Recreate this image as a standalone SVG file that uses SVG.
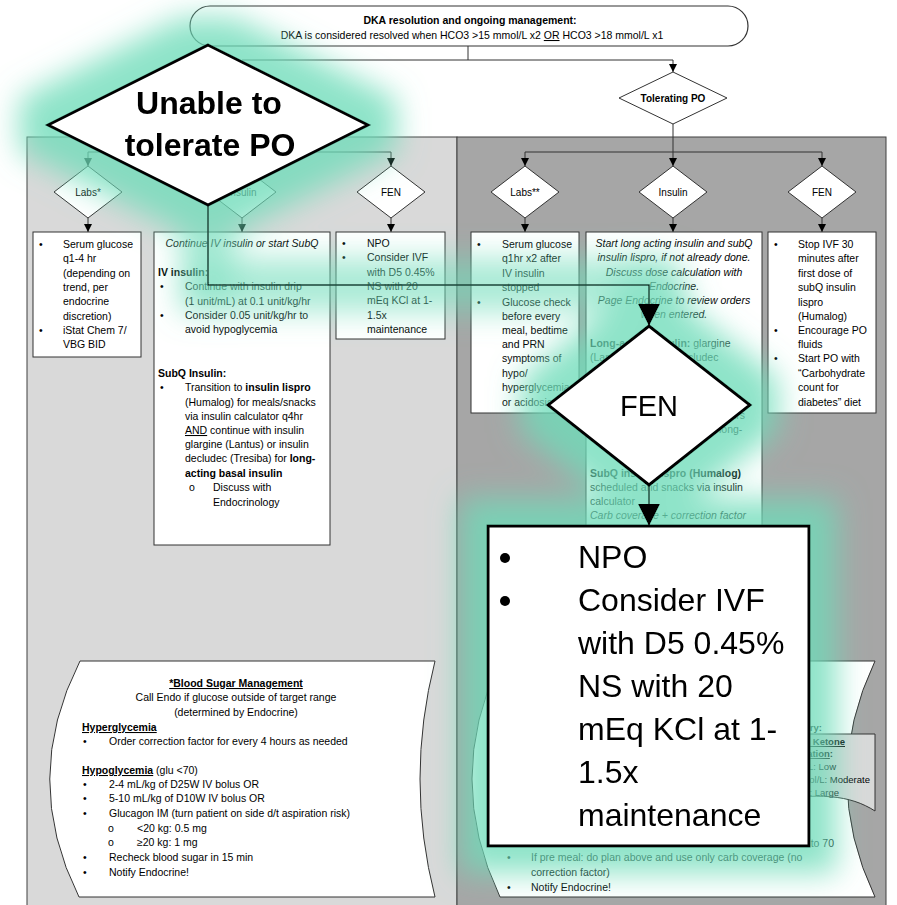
<svg xmlns="http://www.w3.org/2000/svg" width="897" height="905" viewBox="0 0 897 905">
<style>
text{font-family:"Liberation Sans",Arial,sans-serif;font-size:10.5px;fill:#000}
.b{font-weight:bold}
.i{font-style:italic}
.c{text-anchor:middle}
.e{text-anchor:end}
.u{text-decoration:underline}
.s9{font-size:9.5px}
.s10{font-size:10px}
.box{fill:#fff;stroke:#333;stroke-width:1}
.dia{fill:#fff;stroke:#333;stroke-width:1}
.con{fill:none;stroke:#333;stroke-width:1}
.big{fill:#fff;stroke:#000;stroke-width:3}
.bigcon{fill:none;stroke:#000;stroke-width:1.5}
.huge{font-size:32px}
</style>
<defs>
<marker id="arr" markerUnits="userSpaceOnUse" viewBox="0 0 10 10" refX="10" refY="5" markerWidth="8" markerHeight="8" orient="auto"><path d="M0,0 L10,5 L0,10 Z" fill="#000"/></marker>
<marker id="bigarr" markerUnits="userSpaceOnUse" viewBox="0 0 10 10" refX="10" refY="5" markerWidth="22" markerHeight="22" orient="auto"><path d="M0,0 L10,5 L0,10 Z" fill="#000"/></marker>
<filter id="glow" filterUnits="userSpaceOnUse" x="0" y="0" width="897" height="905">
<feMorphology in="SourceAlpha" operator="dilate" radius="26" result="d"/>
<feGaussianBlur in="d" stdDeviation="15" result="bl"/>
<feFlood flood-color="#6edcb9" flood-opacity="0.78"/>
<feComposite in2="bl" operator="in" result="g"/>
<feMerge><feMergeNode in="g"/><feMergeNode in="SourceGraphic"/></feMerge>
</filter>
</defs>
<rect width="897" height="905" fill="#fff"/>
<g id="panels">
<rect x="27" y="137" width="430" height="780" fill="#d9d9d9" stroke="#404040"/>
<rect x="457" y="137" width="429" height="780" fill="#a6a6a6" stroke="#404040"/>
</g>
<g id="connectors">
<path class="con" d="M468,46 V60"/>
<path class="con" d="M242,60 H673 V72" marker-end="url(#arr)"/>
<path class="con" d="M673,124 V152"/>
<path class="con" d="M525,152 H822"/>
<path class="con" d="M525,152 V166" marker-end="url(#arr)"/>
<path class="con" d="M673,152 V166" marker-end="url(#arr)"/>
<path class="con" d="M822,152 V166" marker-end="url(#arr)"/>
<path class="con" d="M88,152 H391"/>
<path class="con" d="M88,152 V166" marker-end="url(#arr)"/>
<path class="con" d="M242,152 V166" marker-end="url(#arr)"/>
<path class="con" d="M391,152 V166" marker-end="url(#arr)"/>
<path class="con" d="M88,218 V232" marker-end="url(#arr)"/>
<path class="con" d="M242,218 V232" marker-end="url(#arr)"/>
<path class="con" d="M391,218 V232" marker-end="url(#arr)"/>
<path class="con" d="M525,218 V232" marker-end="url(#arr)"/>
<path class="con" d="M673,218 V232" marker-end="url(#arr)"/>
<path class="con" d="M822,218 V232" marker-end="url(#arr)"/>
</g>
<g id="title">
<rect x="190" y="6" width="558" height="40" rx="20" fill="#fff" stroke="#333" stroke-width="1.2"/>
<text class="b c" x="470" y="24">DKA resolution and ongoing management:</text>
<text class="c" x="472" y="39">DKA is considered resolved when HCO3 &gt;15 mmol/L x2 <tspan class="u">OR</tspan> HCO3 &gt;18 mmol/L x1</text>
</g>
<g id="tolerating">
<polygon class="dia" points="673,72 727,98 673,124 619,98"/>
<text class="b c s10" x="673" y="102">Tolerating PO</text>
</g>
<g id="labs1-d"><polygon class="dia" points="88,166 122,192 88,218 54,192"/><text class="c s10" x="88" y="196">Labs*</text></g>
<g id="insulin1-d"><polygon class="dia" points="242,166 276,192 242,218 208,192"/><text class="c s10" x="242" y="196">Insulin</text></g>
<g id="fen1-d"><polygon class="dia" points="391,166 425,192 391,218 357,192"/><text class="c s10" x="391" y="196">FEN</text></g>
<g id="labs2-d"><polygon class="dia" points="525,166 559,192 525,218 491,192"/><text class="c s10" x="525" y="196">Labs**</text></g>
<g id="insulin2-d"><polygon class="dia" points="673,166 707,192 673,218 639,192"/><text class="c s10" x="673" y="196">Insulin</text></g>
<g id="fen2-d"><polygon class="dia" points="822,166 856,192 822,218 788,192"/><text class="c s10" x="822" y="196">FEN</text></g>

<g id="labs1-box">
<rect class="box" x="33" y="232" width="108" height="125"/>
<text x="39" y="248">•</text><text x="63" y="248">Serum glucose</text>
<text x="63" y="262">q1-4 hr</text>
<text x="63" y="277">(depending on</text>
<text x="63" y="291">trend, per</text>
<text x="63" y="305">endocrine</text>
<text x="63" y="320">discretion)</text>
<text x="39" y="334">•</text><text x="63" y="334">iStat Chem 7/</text>
<text x="63" y="348">VBG BID</text>
</g>
<g id="insulin1-box">
<rect class="box" x="154" y="232" width="176" height="313"/>
<text class="i c" x="242" y="247">Continue IV insulin or start SubQ</text>
<text class="b" x="158" y="276">IV insulin:</text>
<text x="160" y="290">•</text><text x="185" y="290">Continue with insulin drip</text>
<text x="185" y="305">(1 unit/mL) at 0.1 unit/kg/hr</text>
<text x="160" y="319">•</text><text x="185" y="319">Consider 0.05 unit/kg/hr to</text>
<text x="185" y="333">avoid hypoglycemia</text>
<text class="b" x="158" y="377">SubQ Insulin:</text>
<text x="160" y="391">•</text><text x="185" y="391">Transition to <tspan class="b">insulin lispro</tspan></text>
<text x="185" y="406">(Humalog) for meals/snacks</text>
<text x="185" y="420">via insulin calculator q4hr</text>
<text x="185" y="434"><tspan class="u">AND</tspan> continue with insulin</text>
<text x="185" y="448">glargine (Lantus) or insulin</text>
<text x="185" y="462">decludec (Tresiba) for <tspan class="b">long-</tspan></text>
<text class="b" x="185" y="477">acting basal insulin</text>
<text x="189" y="491">o</text><text x="213" y="491">Discuss with</text>
<text x="213" y="506">Endocrinology</text>
</g>
<g id="fen1-box">
<rect class="box" x="336" y="232" width="109" height="107"/>
<text x="342" y="247">•</text><text x="367" y="247">NPO</text>
<text x="342" y="261">•</text><text x="367" y="261">Consider IVF</text>
<text x="367" y="276">with D5 0.45%</text>
<text x="367" y="290">NS with 20</text>
<text x="367" y="304">mEq KCl at 1-</text>
<text x="367" y="319">1.5x</text>
<text x="367" y="333">maintenance</text>
</g>
<g id="labs2-box">
<rect class="box" x="471" y="232" width="108" height="181"/>
<text x="477" y="248">•</text><text x="502" y="248">Serum glucose</text>
<text x="502" y="262">q1hr x2 after</text>
<text x="502" y="277">IV insulin</text>
<text x="502" y="291">stopped</text>
<text x="477" y="306">•</text><text x="502" y="306">Glucose check</text>
<text x="502" y="320">before every</text>
<text x="502" y="334">meal, bedtime</text>
<text x="502" y="348">and PRN</text>
<text x="502" y="362">symptoms of</text>
<text x="502" y="377">hypo/</text>
<text x="502" y="391">hyperglycemia</text>
<text x="502" y="406">or acidosis</text>
</g>
<g id="insulin2-box">
<rect class="box" x="586" y="232" width="176" height="300"/>
<text class="i c" x="674" y="247">Start long acting insulin and subQ</text>
<text class="i c" x="674" y="261">insulin lispro, if not already done.</text>
<text class="i c" x="674" y="276">Discuss dose calculation with</text>
<text class="i c" x="674" y="290">Endocrine.</text>
<text class="i c" x="674" y="304">Page Endocrine to review orders</text>
<text class="i c" x="674" y="318">when entered.</text>
<text x="590" y="347"><tspan class="b">Long-acting insulin:</tspan> glargine</text>
<text x="590" y="361">(Lantus) or insulin decludec</text>
<text x="590" y="376">(Tresiba)</text>
<text class="e" x="745" y="419">hours</text>
<text x="719" y="433">long-</text>
<text x="590" y="477"><tspan class="b">SubQ insulin lispro (Humalog)</tspan></text>
<text x="590" y="491">scheduled and snacks via insulin</text>
<text x="590" y="505">calculator</text>
<text class="i" x="590" y="519">Carb coverage + correction factor</text>
</g>
<g id="fen2-box">
<rect class="box" x="768" y="232" width="108" height="181"/>
<text x="774" y="248">•</text><text x="798" y="248">Stop IVF 30</text>
<text x="798" y="262">minutes after</text>
<text x="798" y="277">first dose of</text>
<text x="798" y="291">subQ insulin</text>
<text x="798" y="306">lispro</text>
<text x="798" y="320">(Humalog)</text>
<text x="774" y="334">•</text><text x="798" y="334">Encourage PO</text>
<text x="798" y="348">fluids</text>
<text x="774" y="362">•</text><text x="798" y="362">Start PO with</text>
<text x="798" y="377">“Carbohydrate</text>
<text x="798" y="391">count for</text>
<text x="798" y="406">diabetes” diet</text>
</g>
<g id="blood-sugar-1">
<path class="box" d="M80,661 H435 Q405,779 435,897 H79 Q20,779 80,661 Z"/>
<text class="b c u" x="236" y="687">*Blood Sugar Management</text>
<text class="c" x="236" y="701">Call Endo if glucose outside of target range</text>
<text class="c" x="236" y="716">(determined by Endocrine)</text>
<text class="b u" x="82" y="731">Hyperglycemia</text>
<text x="83" y="745">•</text><text x="109" y="745">Order correction factor for every 4 hours as needed</text>
<text x="82" y="774"><tspan class="b u">Hypoglycemia</tspan> (glu &lt;70)</text>
<text x="83" y="788">•</text><text x="109" y="788">2-4 mL/kg of D25W IV bolus OR</text>
<text x="83" y="802">•</text><text x="109" y="802">5-10 mL/kg of D10W IV bolus OR</text>
<text x="83" y="817">•</text><text x="109" y="817">Glucagon IM (turn patient on side d/t aspiration risk)</text>
<text x="108" y="832">o</text><text x="137" y="832">&lt;20 kg: 0.5 mg</text>
<text x="108" y="846">o</text><text x="137" y="846">≥20 kg: 1 mg</text>
<text x="83" y="861">•</text><text x="109" y="861">Recheck blood sugar in 15 min</text>
<text x="83" y="876">•</text><text x="109" y="876">Notify Endocrine!</text>
</g>
<g id="blood-sugar-2">
<path class="box" d="M500,661 H875 Q819,779 875,897 H500 Q444,779 500,661 Z"/>
<text class="b e s9" x="822" y="731">Summary:</text>
<text class="e" x="834" y="847">until back to 70</text>
<text x="507" y="861">•</text><text x="531" y="861">If pre meal: do plan above and use only carb coverage (no</text>
<text x="531" y="876">correction factor)</text>
<text x="507" y="891">•</text><text x="531" y="891">Notify Endocrine!</text>
</g>
<g id="ketone-note">
<path d="M760,734 H875 V811 C850,795 820,792 760,802 Z" fill="#d9d9d9" stroke="#333"/>
<text class="b e s9" x="845" y="745"><tspan class="u">Blood Ketone</tspan></text>
<text class="b e s9" x="833" y="757"><tspan class="u">Interpretation</tspan>:</text>
<text class="e s9" x="836" y="770">0.6-1.5 mmol/L: Low</text>
<text class="e s9" x="870" y="783">1.5-3 mmol/L: Moderate</text>
<text class="e s9" x="839" y="796">&gt;3 mmol/L: Large</text>
</g>

<g id="highlight" filter="url(#glow)">
<g id="highlight-connectors">
<path class="bigcon" d="M208,205 V285 H649 V326" marker-end="url(#bigarr)"/>
<path class="bigcon" d="M649,485 V526" marker-end="url(#bigarr)"/>
</g>
<g id="unable-big">
<polygon class="big" points="208,45 368,125 208,205 48,125"/>
<text class="b c huge" x="209" y="114">Unable to</text>
<text class="b c huge" x="210" y="156">tolerate PO</text>
</g>
<g id="fen-big">
<polygon class="big" points="649,326 750,405 649,485 548,405"/>
<text class="c" x="649" y="416" style="font-size:29px">FEN</text>
</g>
<g id="fen-big-box">
<rect class="big" x="488" y="526" width="321" height="320"/>
<circle cx="505" cy="558" r="5"/>
<circle cx="505" cy="601" r="5"/>
<text class="huge" x="578" y="568">NPO</text>
<text class="huge" x="578" y="611">Consider IVF</text>
<text class="huge" x="578" y="654">with D5 0.45%</text>
<text class="huge" x="578" y="697">NS with 20</text>
<text class="huge" x="578" y="740">mEq KCl at 1-</text>
<text class="huge" x="578" y="783">1.5x</text>
<text class="huge" x="578" y="826">maintenance</text>
</g>
</g>
</svg>
